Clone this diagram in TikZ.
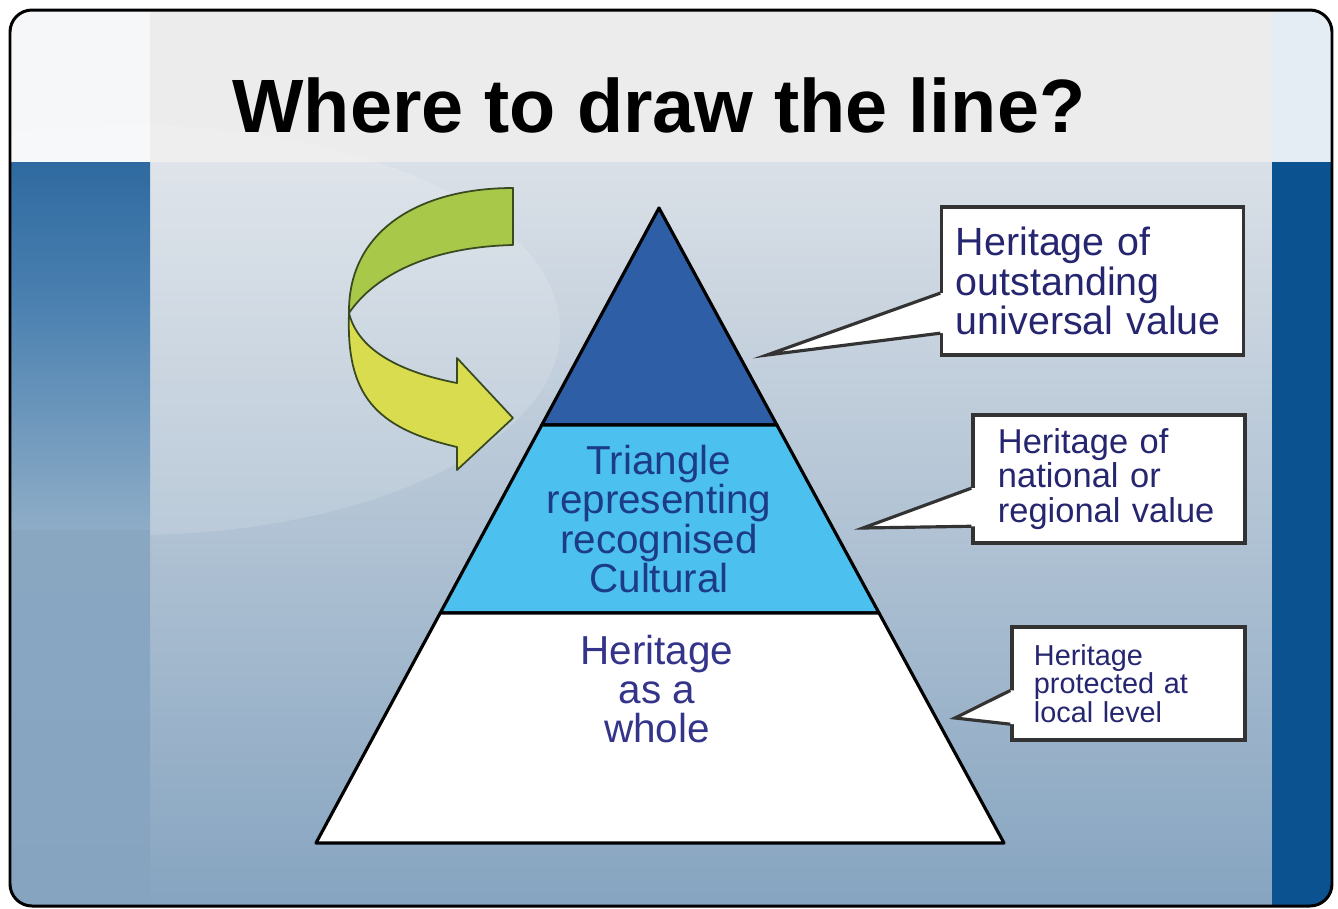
\documentclass[tikz,border=0pt]{standalone}
\usepackage{fontspec}
\setmainfont{Liberation Sans}
\usetikzlibrary{calc}

\definecolor{headgray}{HTML}{ECECEC}
\definecolor{headleft}{HTML}{F5F7F9}
\definecolor{headright}{HTML}{E4ECF4}
\definecolor{bodytop}{HTML}{DAE0E7}
\definecolor{bodybot}{HTML}{86A4C0}
\definecolor{stripblue}{HTML}{2F6AA0}
\definecolor{stripup}{HTML}{4A80B0}
\definecolor{stripmid}{HTML}{8EADC7}
\definecolor{striplow}{HTML}{89A7C1}
\definecolor{rightblue}{HTML}{0A5290}
\definecolor{arrowgreen}{HTML}{A8C84A}
\definecolor{arrowyellow}{HTML}{D8DC4E}
\definecolor{arrowline}{HTML}{3A4A20}
\definecolor{topblue}{HTML}{2E5FA6}
\definecolor{midblue}{HTML}{4CC0EE}
\definecolor{midtext}{HTML}{1C3C86}
\definecolor{lowtext}{HTML}{34348A}
\definecolor{notetext}{HTML}{262670}

\begin{document}
\begin{tikzpicture}[x=0.01cm,y=-0.01cm,
 notebox/.style={draw=black!80,line width=0.9pt,fill=white,align=left,text=notetext,inner ysep=0pt},
 pointer/.style={draw=black!80,line width=0.9pt,line join=miter},
 layer/.style={draw=black,line width=0.9pt,line join=round},
 ribbon/.style={draw=arrowline,line width=0.5pt,line join=round},
 tritxt/.style={align=center,inner sep=0pt,font=\fontsize{11.5}{11.2}\selectfont}]
\useasboundingbox (0,0) rectangle (1338,908);
% slide background
\begin{scope}
\clip[rounded corners=0.22cm] (10,10) rectangle (1332,906);
\fill[headgray] (10,10) rectangle (1332,162);
\fill[headleft] (10,10) rectangle (150,162);
\fill[headright] (1272,10) rectangle (1332,162);
\shade[top color=bodytop,bottom color=bodybot] (150,162) rectangle (1272,906);
\fill[white,opacity=0.14] (130,330) ellipse [x radius=4.3cm,y radius=2.05cm];
\shade[top color=stripblue,bottom color=stripup] (10,162) rectangle (150,300);
\shade[top color=stripup,bottom color=stripmid] (10,300) rectangle (150,530);
\shade[top color=striplow,bottom color=bodybot] (10,530) rectangle (150,906);
\fill[rightblue] (1272,162) rectangle (1332,906);
\end{scope}
\draw[line width=0.85pt,rounded corners=0.22cm] (10,10) rectangle (1332,906);
\node[font=\fontsize{21.5}{24}\selectfont\bfseries,anchor=base] (title) at (659,132) {Where to draw the line?};
% twisted arrow
\path[ribbon,fill=arrowgreen] (513,188) .. controls (420,188) and (348,230) .. (349,313)
  .. controls (375,275) and (430,247) .. (513,245) -- cycle;
\path[ribbon,fill=arrowyellow] (349,313) .. controls (346,395) and (375,428) .. (457,447)
  -- (457,470) -- (513,418) -- (457,358) -- (457,383)
  .. controls (400,372) and (358,350) .. (349,313) -- cycle;
% pyramid
\coordinate (apex) at (659,208);
\coordinate (baseL) at (316,843);
\coordinate (baseR) at (1004,843);
\coordinate (cutL1) at ($(apex)!0.3417!(baseL)$);
\coordinate (cutR1) at ($(apex)!0.3417!(baseR)$);
\coordinate (cutL2) at ($(apex)!0.6378!(baseL)$);
\coordinate (cutR2) at ($(apex)!0.6378!(baseR)$);
\path[layer,fill=topblue] (apex) -- (cutR1) -- (cutL1) -- cycle;
\path[layer,fill=midblue] (cutL1) -- (cutR1) -- (cutR2) -- (cutL2) -- cycle;
\path[layer,fill=white] (cutL2) -- (cutR2) -- (baseR) -- (baseL) -- cycle;
\node[tritxt,text=midtext] (midlabel) at (659,519) {Triangle\\representing\\recognised\\Cultural};
\node[tritxt,text=lowtext] (lowlabel) at (657,689) {Heritage\\as a\\whole};
% callouts
\node[notebox,font=\fontsize{11.2}{11.2}\selectfont,inner xsep=0.14cm,text width=2.73cm,minimum height=1.48cm] (note1) at (1092.5,281) {Heritage of\\outstanding\\universal value};
\node[notebox,font=\fontsize{9.8}{9.8}\selectfont,inner xsep=0.25cm,text width=2.22cm,minimum height=1.28cm] (note2) at (1109,479) {Heritage of\\national or\\regional value};
\node[notebox,font=\fontsize{8.2}{8.1}\selectfont,inner xsep=0.22cm,text width=1.89cm,minimum height=1.13cm] (note3) at (1128.5,683.5) {Heritage\\protected at\\local level};
\coordinate (tip1) at (767,355);
\coordinate (tip2) at (863,528);
\coordinate (tip3) at (955,718);
\foreach \n/\a/\b in {1/0.58/0.845,2/0.57/0.86,3/0.56/0.85}{
  \coordinate (p\n a) at ($(note\n.north west)!\a!(note\n.south west)$);
  \coordinate (p\n b) at ($(note\n.north west)!\b!(note\n.south west)$);
  \fill[white] ($(p\n a)+(4,0)$) -- (p\n a) -- (tip\n) -- (p\n b) -- ($(p\n b)+(4,0)$) -- cycle;
  \draw[pointer] (p\n a) -- (tip\n) -- (p\n b);
}
\end{tikzpicture}
\end{document}
